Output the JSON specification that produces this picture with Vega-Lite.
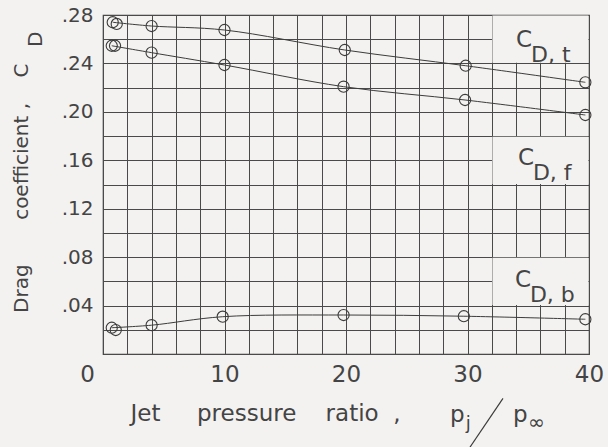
{
  "$schema": "https://vega.github.io/schema/vega-lite/v6.json",
  "width": 486,
  "height": 339,
  "autosize": {"type": "none"},
  "padding": {"left": 103, "top": 15, "right": 19, "bottom": 93},
  "background": "#f3f2f0",
  "config": {
    "font": "DejaVu Sans",
    "view": {"stroke": "#3c3c3c", "strokeWidth": 1.2},
    "axis": {
      "domain": false,
      "ticks": false,
      "gridColor": "#4a4a4a",
      "gridWidth": 1,
      "gridOpacity": 1,
      "labelColor": "#444444",
      "titleColor": "#444444",
      "labelFontWeight": "normal",
      "titleFontWeight": "normal"
    }
  },
  "datasets": {
    "pts": [
      {"s": "t", "x": 0.8, "y": 0.274, "line": true},
      {"s": "t", "x": 1.13, "y": 0.2726, "line": false},
      {"s": "t", "x": 4.0, "y": 0.2709, "line": true},
      {"s": "t", "x": 10.0, "y": 0.2676, "line": true},
      {"s": "t", "x": 19.9, "y": 0.2511, "line": true},
      {"s": "t", "x": 29.85, "y": 0.2381, "line": true},
      {"s": "t", "x": 39.7, "y": 0.2244, "line": true},
      {"s": "f", "x": 0.72, "y": 0.2546, "line": true},
      {"s": "f", "x": 0.99, "y": 0.2546, "line": false},
      {"s": "f", "x": 4.0, "y": 0.2489, "line": true},
      {"s": "f", "x": 10.0, "y": 0.2387, "line": true},
      {"s": "f", "x": 19.8, "y": 0.2208, "line": true},
      {"s": "f", "x": 29.8, "y": 0.2098, "line": true},
      {"s": "f", "x": 39.7, "y": 0.1974, "line": true},
      {"s": "b", "x": 0.72, "y": 0.0217, "line": true},
      {"s": "b", "x": 1.05, "y": 0.0198, "line": false},
      {"s": "b", "x": 4.0, "y": 0.0238, "line": true},
      {"s": "b", "x": 9.85, "y": 0.0308, "line": true},
      {"s": "b", "x": 19.8, "y": 0.0322, "line": true},
      {"s": "b", "x": 29.7, "y": 0.0312, "line": true},
      {"s": "b", "x": 39.7, "y": 0.0287, "line": true}
    ],
    "boxes": [
      {"x": 32.05, "xe": 39.95, "y": 0.2405, "ye": 0.2795},
      {"x": 32.05, "xe": 39.95, "y": 0.1405, "ye": 0.1795},
      {"x": 32.05, "xe": 39.95, "y": 0.0405, "ye": 0.0795}
    ],
    "curvelabels": [
      {"x": 34.0, "y": 0.2535, "sub": "D, t"},
      {"x": 34.15, "y": 0.156, "sub": "D, f"},
      {"x": 33.9, "y": 0.0552, "sub": "D, b"}
    ],
    "notes": [
      {"x": 28.56, "y": -0.0562, "t": "p"},
      {"x": 33.74, "y": -0.0562, "t": "p"},
      {"x": 29.85, "y": -0.0620, "t": "j"},
      {"x": 34.98, "y": -0.0620, "t": "∞"},
      {"x": -5.02, "y": 0.2536, "t": "D"}
    ],
    "slash": [
      {"x": 30.2, "y": -0.077, "xe": 32.92, "ye": -0.0366}
    ]
  },
  "encoding": {
    "x": {
      "field": "x",
      "type": "quantitative",
      "scale": {"domain": [0, 40], "nice": false, "zero": false},
      "axis": {
        "values": [0, 2, 4, 6, 8, 10, 12, 14, 16, 18, 20, 22, 24, 26, 28, 30, 32, 34, 36, 38, 40],
        "labelExpr": "datum.value % 10 == 0 ? datum.label : ''",
        "labelFontSize": 23,
        "labelPadding": 9,
        "labelOverlap": false,
        "labelFlush": false,
        "labelOffset": {"condition": {"test": "datum.value == 0", "value": -16}, "value": 0},
        "title": "Jet\u00a0\u00a0\u00a0\u00a0\u00a0pressure\u00a0\u00a0\u00a0\u00a0ratio\u00a0\u00a0,",
        "titleFontSize": 23,
        "titleX": 27,
        "titleY": 66,
        "titleAlign": "left",
        "titleAnchor": "start",
        "titleBaseline": "alphabetic"
      }
    },
    "y": {
      "field": "y",
      "type": "quantitative",
      "scale": {"domain": [0, 0.28], "nice": false, "zero": false},
      "axis": {
        "values": [0, 0.02, 0.04, 0.06, 0.08, 0.1, 0.12, 0.14, 0.16, 0.18, 0.2, 0.22, 0.24, 0.26, 0.28],
        "labelExpr": "datum.value > 0.001 && round(datum.value * 100) % 4 == 0 ? replace(format(datum.value, '.2f'), '0.', '.') : ''",
        "labelFontSize": 20,
        "labelPadding": 10,
        "labelOverlap": false,
        "labelFlush": false,
        "title": "Drag\u00a0\u00a0\u00a0\u00a0\u00a0\u00a0\u00a0coefficient\u00a0,\u00a0\u00a0\u00a0\u00a0C",
        "titleFontSize": 20,
        "titleAngle": 270,
        "titleX": -76,
        "titleY": 48,
        "titleAlign": "right",
        "titleAnchor": "end",
        "titleBaseline": "alphabetic"
      }
    }
  },
  "layer": [
    {
      "data": {"name": "boxes"},
      "mark": {"type": "rect", "fill": "#f3f2f0", "stroke": null},
      "encoding": {"x2": {"field": "xe"}, "y2": {"field": "ye"}}
    },
    {
      "data": {"name": "pts"},
      "transform": [{"filter": "datum.line"}],
      "mark": {"type": "line", "interpolate": "catmull-rom", "color": "#3c3c3c", "strokeWidth": 1},
      "encoding": {"detail": {"field": "s"}}
    },
    {
      "data": {"name": "pts"},
      "mark": {"type": "point", "shape": "circle", "filled": false, "size": 125, "stroke": "#3c3c3c", "strokeWidth": 1.1, "opacity": 1},
      "encoding": {"detail": {"field": "s"}}
    },
    {
      "data": {"name": "curvelabels"},
      "mark": {"type": "text", "text": "C", "fontSize": 23, "align": "left", "baseline": "alphabetic", "color": "#444444"}
    },
    {
      "data": {"name": "curvelabels"},
      "mark": {"type": "text", "fontSize": 22, "align": "left", "baseline": "alphabetic", "dx": 15, "dy": 15, "color": "#444444"},
      "encoding": {"text": {"field": "sub"}}
    },
    {
      "data": {"name": "notes"},
      "transform": [{"filter": "datum.t == 'p'"}],
      "mark": {"type": "text", "fontSize": 23, "align": "left", "baseline": "alphabetic", "color": "#444444"},
      "encoding": {"text": {"field": "t"}}
    },
    {
      "data": {"name": "notes"},
      "transform": [{"filter": "datum.t == 'j'"}],
      "mark": {"type": "text", "fontSize": 18, "align": "left", "baseline": "alphabetic", "color": "#444444"},
      "encoding": {"text": {"field": "t"}}
    },
    {
      "data": {"name": "notes"},
      "transform": [{"filter": "datum.t == '∞'"}],
      "mark": {"type": "text", "fontSize": 20, "align": "left", "baseline": "alphabetic", "color": "#444444"},
      "encoding": {"text": {"field": "t"}}
    },
    {
      "data": {"name": "notes"},
      "transform": [{"filter": "datum.t == 'D'"}],
      "mark": {"type": "text", "fontSize": 20, "angle": 270, "align": "left", "baseline": "alphabetic", "color": "#444444"},
      "encoding": {"text": {"field": "t"}}
    },
    {
      "data": {"name": "slash"},
      "mark": {"type": "rule", "color": "#3c3c3c", "strokeWidth": 1.2},
      "encoding": {"x2": {"field": "xe"}, "y2": {"field": "ye"}}
    }
  ]
}
